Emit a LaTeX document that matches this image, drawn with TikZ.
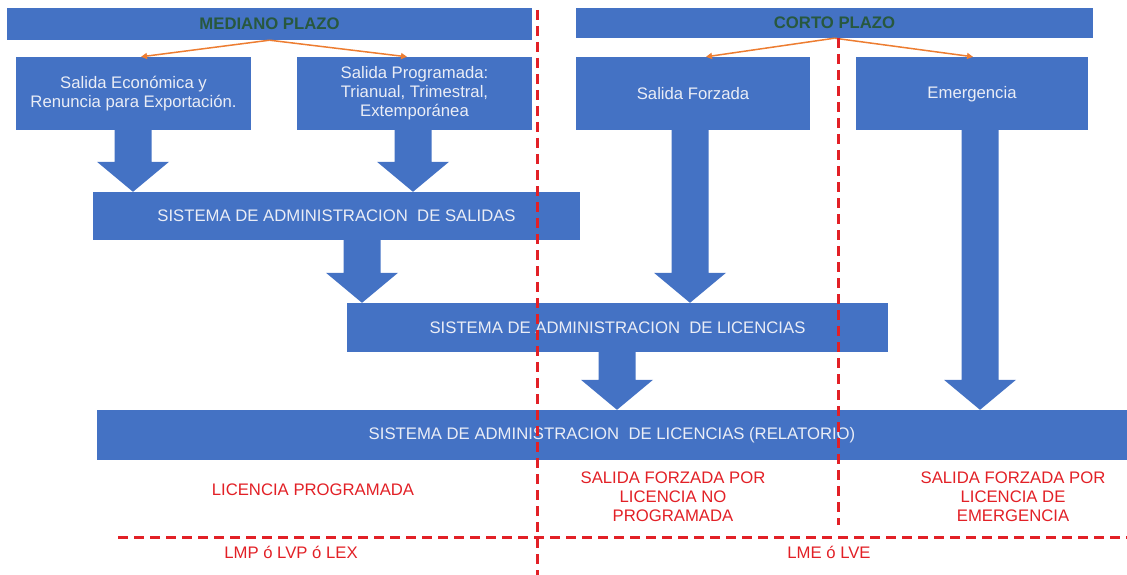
\documentclass[tikz,border=0pt]{standalone}
\usepackage{fontspec}
\setmainfont{Liberation Sans}
\usepackage{tikz}
\usetikzlibrary{arrows.meta, calc}

\definecolor{azul}{RGB}{68,114,196}
\definecolor{verdeosc}{RGB}{40,88,62}
\definecolor{naranja}{RGB}{237,125,49}
\definecolor{rojo}{RGB}{226,32,38}
\definecolor{claro}{RGB}{234,237,246}

% Flecha ancha de la caja #2 a la caja #3, en la abscisa #1
\newcommand{\flechaancha}[3]{%
  \path (#2.south -| #1,0) coordinate (fa)
        (#3.north -| #1,0) coordinate (fb);
  \fill[azul] ($(fa)+(-18.5,0)$) -- ($(fa)+(18.5,0)$)
      -- ($(fb)+(18.5,-30)$) -- ($(fb)+(36,-30)$) -- (fb)
      -- ($(fb)+(-36,-30)$) -- ($(fb)+(-18.5,-30)$) -- cycle;
}

\begin{document}
\begin{tikzpicture}[x=1pt, y=-1pt,
    caja/.style={fill=azul, inner sep=0pt, text=claro, align=center,
        font=\fontsize{16.7}{19}\selectfont},
    cabecera/.style={caja, text=verdeosc,
        font=\fontsize{16.7}{19}\selectfont\bfseries},
    rotulo/.style={text=rojo, align=center, inner sep=0pt,
        font=\fontsize{16.7}{19}\selectfont},
    flechita/.style={naranja, line width=1.5pt,
        -{Triangle[length=6pt, width=6pt]}},
    guia/.style={rojo, line width=3pt, dash pattern=on 10pt off 6pt}]

    \useasboundingbox (0,0) rectangle (1127,575);

    % Cabeceras
    \node[cabecera, minimum width=525pt, minimum height=32pt]
        (mediano) at (269.5,24) {MEDIANO PLAZO};
    \node[cabecera, minimum width=517pt, minimum height=30pt]
        (corto) at (834.5,23) {CORTO PLAZO};

    % Tipos de salida
    \node[caja, minimum width=235pt, minimum height=73pt]
        (econ) at (133.5,93.5) {Salida Económica y\\Renuncia para Exportación.};
    \node[caja, minimum width=235pt, minimum height=73pt]
        (prog) at (414.5,93.5) {Salida Programada:\\Trianual, Trimestral,\\Extemporánea};
    \node[caja, minimum width=234pt, minimum height=73pt]
        (forzada) at (693,93.5) {Salida Forzada};
    \node[caja, minimum width=232pt, minimum height=73pt,
        text depth=3pt] (emerg) at (972,93.5) {Emergencia};

    % Sistemas
    \node[caja, minimum width=487pt, minimum height=48pt]
        (salidas) at (336.5,216) {SISTEMA DE ADMINISTRACION\ \ DE SALIDAS};
    \node[caja, minimum width=541pt, minimum height=49pt]
        (licencias) at (617.5,327.5) {SISTEMA DE ADMINISTRACION\ \ DE LICENCIAS};
    \node[caja, minimum width=1030pt, minimum height=50pt]
        (relatorio) at (612,435) {SISTEMA DE ADMINISTRACION\ \ DE LICENCIAS (RELATORIO)};

    % Flechas de las cabeceras
    \draw[flechita] (mediano.south) -- (econ.north -| 141,0);
    \draw[flechita] (mediano.south) -- (prog.north -| 407,0);
    \draw[flechita] (corto.south) -- (forzada.north -| 706,0);
    \draw[flechita] (corto.south) -- (emerg.north -| 973,0);

    % Flechas anchas
    \flechaancha{133}{econ}{salidas}
    \flechaancha{413}{prog}{salidas}
    \flechaancha{362}{salidas}{licencias}
    \flechaancha{690}{forzada}{licencias}
    \flechaancha{617}{licencias}{relatorio}
    \flechaancha{980}{emerg}{relatorio}

    % Resultados
    \node[rotulo] (lprog) at (313,490) {LICENCIA PROGRAMADA};
    \node[rotulo] (lnoprog) at (673,497) {SALIDA FORZADA POR\\LICENCIA NO\\PROGRAMADA};
    \node[rotulo] (lemerg) at (1013,497) {SALIDA FORZADA POR\\LICENCIA DE\\EMERGENCIA};
    \node[rotulo] (clavemp) at (291,552) {LMP ó LVP ó LEX};
    \node[rotulo] (clavecp) at (829,552) {LME ó LVE};

    % Lineas divisorias
    \draw[guia] (537,10) -- (537,575);
    \draw[guia] (838,38) -- (838,525);
    \draw[guia] (118,537) -- (1127,537);
\end{tikzpicture}
\end{document}
